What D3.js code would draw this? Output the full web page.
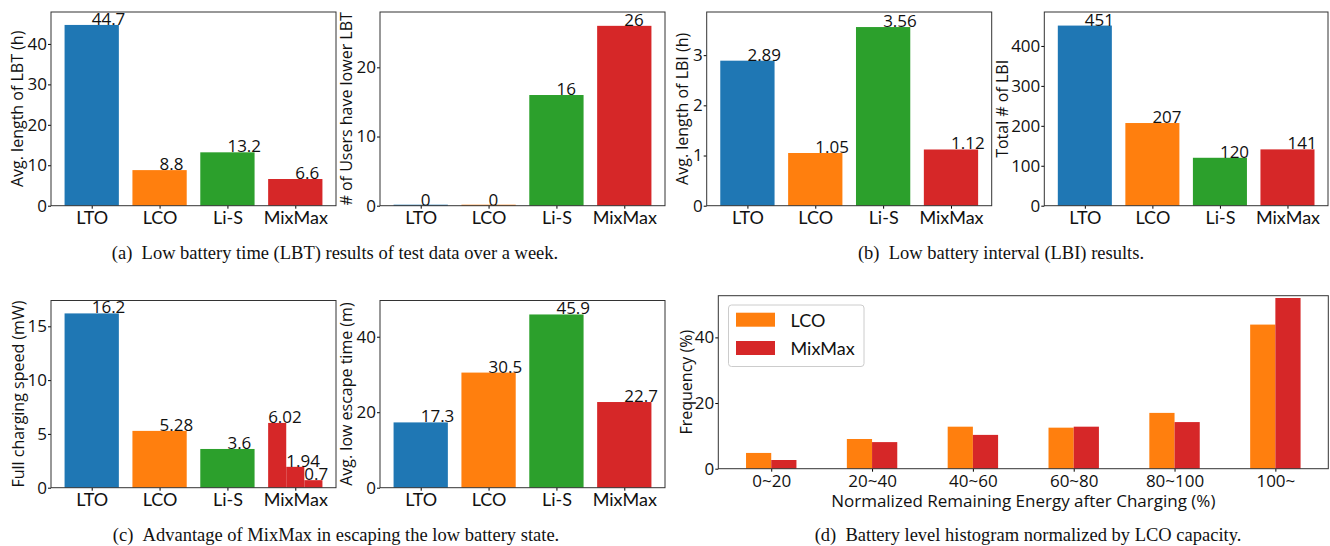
<!DOCTYPE html>
<html lang="en">
  <head>
    <meta charset="utf-8">
    <title>Battery results</title>
    <style>
      body { margin: 0; background: #fff; }
      .tick text { fill: #111; }
    </style>
  </head>
  <body>
    <svg width="1330" height="546"></svg>
    <script src="https://cdn.jsdelivr.net/npm/d3@7"></script>
    <script>
      // data
      const batteries = ['LTO', 'LCO', 'Li-S', 'MixMax'];
      const lbtHours = [44.7, 8.8, 13.2, 6.6];
      const lbtUsers = [0, 0, 16, 26];
      const lbiHours = [2.89, 1.05, 3.56, 1.12];
      const lbiCount = [451, 207, 120, 141];
      const chargeSpeed = [16.2, 5.28, 3.6];
      const mixmaxChargeSpeed = [6.02, 1.94, 0.7];
      const escapeTime = [17.3, 30.5, 45.9, 22.7];
      const energyBins = ['0~20', '20~40', '40~60', '60~80', '80~100', '100~'];
      const lcoFreq = [4.8, 9.05, 12.8, 12.5, 17.0, 43.9];
      const mixmaxFreq = [2.65, 8.1, 10.3, 12.8, 14.2, 52.0];

      const colors = ['#1f77b4', '#ff7f0e', '#2ca02c', '#d62728'];
      const num_font = 'Open Sans, sans-serif';
      const cat_font = 'Lato, sans-serif';
      const cap_font = 'Liberation Serif, serif';

      const svg = d3.select('svg');

      // common frame: y axis, x axis, y label
      function draw_frame(box, x_scale, y_scale, y_ticks, x_ticks, x_fmt, y_label, x_font) {
        const g = svg.append('g');
        g.append('g')
          .attr('transform', `translate(${box.left},0)`)
          .call(d3.axisLeft(y_scale).tickValues(y_ticks).tickFormat(d3.format('d'))
            .tickSize(3).tickPadding(1))
          .call(a => a.select('.domain').remove())
          .call(a => a.selectAll('text').attr('font-family', num_font).attr('font-size', 17));
        g.append('g')
          .attr('transform', `translate(0,${box.bottom})`)
          .call(d3.axisBottom(x_scale).tickValues(x_ticks).tickFormat(x_fmt).tickSize(3).tickPadding(3))
          .call(a => a.select('.domain').remove())
          .call(a => a.selectAll('text').attr('font-family', x_font.family).attr('font-size', x_font.size));
        g.append('text')
          .attr('transform', `translate(${box.ylab_x},${(box.top + box.bottom) / 2}) rotate(-90)`)
          .attr('text-anchor', 'middle')
          .attr('dominant-baseline', 'central')
          .attr('font-family', num_font)
          .attr('font-size', 16)
          .attr('fill', '#111')
          .text(y_label);
        return g;
      }

      function draw_spines(box) {
        svg.append('rect')
          .attr('x', box.left).attr('y', box.top)
          .attr('width', box.right - box.left).attr('height', box.bottom - box.top)
          .attr('fill', 'none').attr('stroke', '#333').attr('stroke-width', 1);
      }

      function bar_panel(box, values, y_max, y_ticks, y_label) {
        const x_scale = d3.scaleLinear().domain([-0.6, 3.6]).range([box.left, box.right]);
        const y_scale = d3.scaleLinear().domain([0, y_max]).range([box.bottom, box.top]);
        const g = draw_frame(box, x_scale, y_scale, y_ticks, d3.range(batteries.length),
          i => batteries[i], y_label, {family: cat_font, size: 18});

        g.selectAll('rect.bar')
          .data(values).enter()
          .append('rect')
          .attr('class', 'bar')
          .attr('x', (d, i) => x_scale(i - 0.4))
          .attr('width', x_scale(0.4) - x_scale(-0.4))
          .attr('y', d => Math.min(y_scale(d), y_scale(0) - 1))
          .attr('height', d => Math.max(1, y_scale(0) - y_scale(d)))
          .attr('fill', (d, i) => colors[i]);

        g.selectAll('text.val')
          .data(values).enter()
          .append('text')
          .attr('class', 'val')
          .attr('x', (d, i) => x_scale(i))
          .attr('y', d => y_scale(d))
          .attr('font-family', num_font)
          .attr('font-size', 17)
          .attr('fill', '#111')
          .text(d => d);

        return {g, x_scale, y_scale};
      }

      const top_row = {top: 12, bottom: 205.7};
      const bot_row = {top: 300.5, bottom: 487.7};

      bar_panel({left: 51, right: 336, ...top_row, ylab_x: 17}, lbtHours, 47.9,
        [0, 10, 20, 30, 40], 'Avg. length of LBT (h)');
      bar_panel({left: 380, right: 665, ...top_row, ylab_x: 346}, lbtUsers, 28,
        [0, 10, 20], '# of Users have lower LBT');
      bar_panel({left: 706.7, right: 991.7, ...top_row, ylab_x: 682}, lbiHours, 3.86,
        [0, 1, 2, 3], 'Avg. length of LBI (h)');
      bar_panel({left: 1044.3, right: 1328, ...top_row, ylab_x: 1002}, lbiCount, 485,
        [0, 100, 200, 300, 400], 'Total # of LBI');

      // (c) left: MixMax split in three sub-bars
      const pc = bar_panel({left: 51, right: 336, ...bot_row, ylab_x: 18}, chargeSpeed, 17.4,
        [0, 5, 10, 15], 'Full charging speed (mW)');
      const sub_w = 0.8 / mixmaxChargeSpeed.length;
      const mix_i = batteries.indexOf('MixMax');
      pc.g.selectAll('rect.sub')
        .data(mixmaxChargeSpeed).enter()
        .append('rect')
        .attr('class', 'sub')
        .attr('x', (d, j) => pc.x_scale(mix_i - 0.4 + j * sub_w))
        .attr('width', pc.x_scale(sub_w) - pc.x_scale(0))
        .attr('y', d => pc.y_scale(d))
        .attr('height', d => pc.y_scale(0) - pc.y_scale(d))
        .attr('fill', colors[mix_i]);
      pc.g.selectAll('text.sub')
        .data(mixmaxChargeSpeed).enter()
        .append('text')
        .attr('class', 'sub')
        .attr('x', (d, j) => pc.x_scale(mix_i - 0.4 + j * sub_w))
        .attr('y', d => pc.y_scale(d))
        .attr('font-family', num_font)
        .attr('font-size', 17)
        .attr('fill', '#111')
        .text(d => d);

      bar_panel({left: 380, right: 665, ...bot_row, ylab_x: 346}, escapeTime, 49.6,
        [0, 20, 40], 'Avg. low escape time (m)');

      // (d) grouped histogram
      const pd_box = {left: 718.3, right: 1328.3, top: 295.7, bottom: 468.7, ylab_x: 686};
      const xd = d3.scaleLinear().domain([-0.525, energyBins.length - 0.475]).range([pd_box.left, pd_box.right]);
      const yd = d3.scaleLinear().domain([0, 52.7]).range([pd_box.bottom, pd_box.top]);
      const gd = draw_frame(pd_box, xd, yd, [0, 20, 40], d3.range(energyBins.length),
        i => energyBins[i], 'Frequency (%)', {family: num_font, size: 17});
      const bw = 0.25;
      const hist_series = [
        {name: 'LCO', values: lcoFreq, color: colors[1], off: -bw},
        {name: 'MixMax', values: mixmaxFreq, color: colors[3], off: 0}
      ];
      hist_series.forEach(s => {
        gd.append('g').selectAll('rect')
          .data(s.values).enter()
          .append('rect')
          .attr('x', (d, i) => xd(i + s.off))
          .attr('width', xd(bw) - xd(0))
          .attr('y', d => yd(d))
          .attr('height', d => yd(0) - yd(d))
          .attr('fill', s.color);
      });
      gd.append('text')
        .attr('x', (pd_box.left + pd_box.right) / 2)
        .attr('y', 507)
        .attr('text-anchor', 'middle')
        .attr('font-family', num_font)
        .attr('font-size', 17)
        .attr('fill', '#111')
        .text('Normalized Remaining Energy after Charging (%)');

      // legend
      const leg = gd.append('g').attr('transform', 'translate(728.5,305)');
      leg.append('rect')
        .attr('width', 135.5).attr('height', 61.5).attr('rx', 3)
        .attr('fill', '#fff').attr('stroke', '#ccc');
      hist_series.forEach((s, k) => {
        leg.append('rect')
          .attr('x', 7.5).attr('y', 7.7 + k * 28.3)
          .attr('width', 39).attr('height', 14)
          .attr('fill', s.color);
        leg.append('text')
          .attr('x', 62).attr('y', 14.7 + k * 28.3)
          .attr('dominant-baseline', 'central')
          .attr('font-family', cat_font)
          .attr('font-size', 18)
          .attr('fill', '#111')
          .text(s.name);
      });

      [{top: 12, bottom: 205.7, left: 51, right: 336},
       {top: 12, bottom: 205.7, left: 380, right: 665},
       {top: 12, bottom: 205.7, left: 706.7, right: 991.7},
       {top: 12, bottom: 205.7, left: 1044.3, right: 1328},
       {top: 300.5, bottom: 487.7, left: 51, right: 336},
       {top: 300.5, bottom: 487.7, left: 380, right: 665},
       pd_box].forEach(draw_spines);

      // captions
      const captions = [
        {x: 335, y: 259, t: '(a)\u2002Low battery time (LBT) results of test data over a week.'},
        {x: 1001, y: 259, t: '(b)\u2002Low battery interval (LBI) results.'},
        {x: 336, y: 541, t: '(c)\u2002Advantage of MixMax in escaping the low battery state.'},
        {x: 1028, y: 541, t: '(d)\u2002Battery level histogram normalized by LCO capacity.'}
      ];
      svg.selectAll('text.cap')
        .data(captions).enter()
        .append('text')
        .attr('class', 'cap')
        .attr('x', d => d.x)
        .attr('y', d => d.y)
        .attr('text-anchor', 'middle')
        .attr('font-family', cap_font)
        .attr('font-size', 18.5)
        .attr('fill', '#111')
        .text(d => d.t);
    </script>
  </body>
</html>
